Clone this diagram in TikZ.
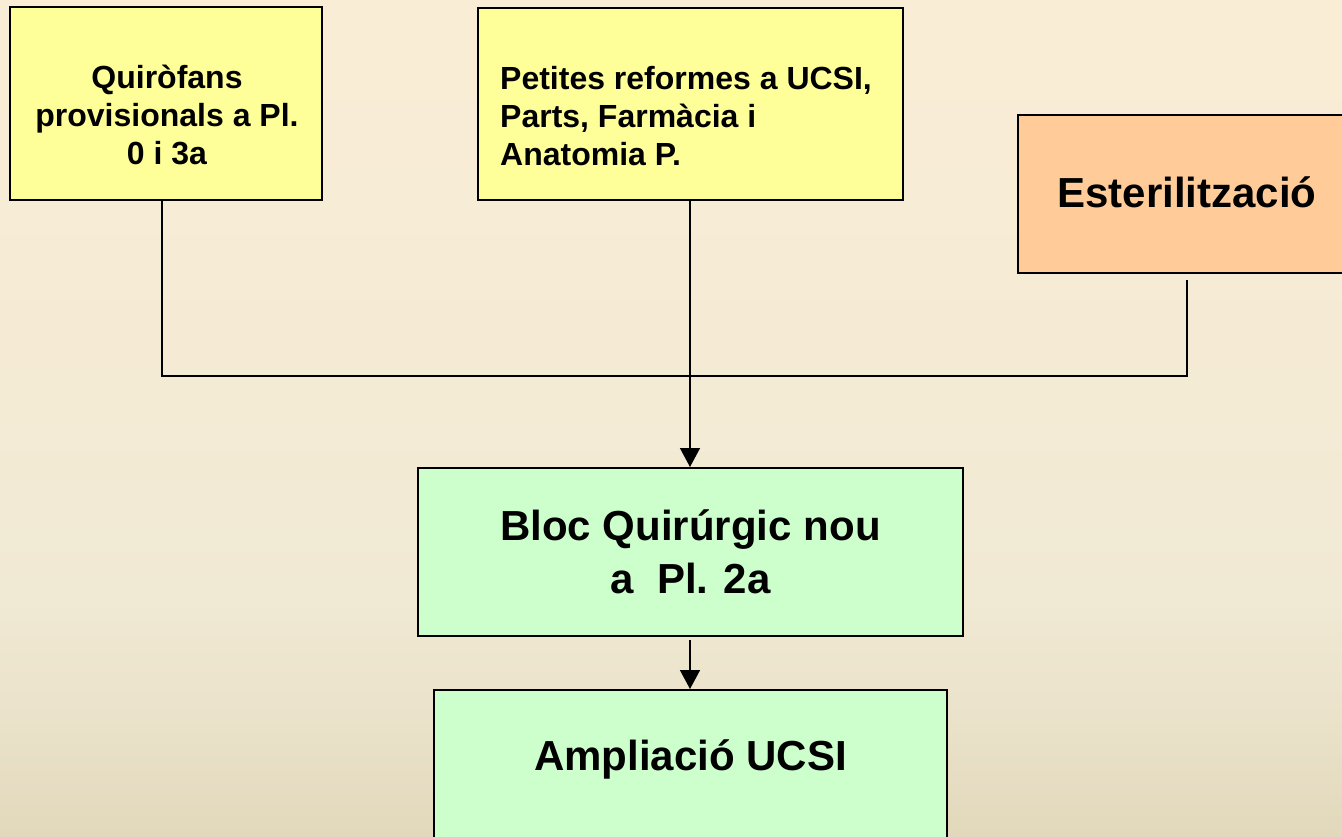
\documentclass[tikz,border=0pt]{standalone}
\usepackage{fontspec}
\setmainfont{Liberation Sans}
\usetikzlibrary{arrows.meta}
\definecolor{bgA}{HTML}{E2D9BC}
\definecolor{bgB}{HTML}{EBE3CB}
\definecolor{bgC}{HTML}{F0E9D3}
\definecolor{bgD}{HTML}{F4EBD5}
\definecolor{bgE}{HTML}{FAEDD6}
\definecolor{yel}{HTML}{FFFF99}
\definecolor{grn}{HTML}{CCFFCC}
\definecolor{org}{HTML}{FFCC99}
\pgfdeclareverticalshading{bgshade}{100bp}{color(0bp)=(bgA); color(25bp)=(bgA); color(33bp)=(bgB); color(39bp)=(bgC); color(51bp)=(bgD); color(75bp)=(bgE); color(100bp)=(bgE)}
\tikzset{
  boxy/.style={draw=black, line width=2pt, rectangle, inner sep=0pt},
  smalltxt/.style={font=\fontsize{32}{38}\selectfont\bfseries, inner sep=0pt},
  bigtxt/.style={font=\fontsize{42}{53}\selectfont\bfseries, inner sep=0pt},
  conn/.style={draw=black, line width=1.5pt},
  arr/.style={conn, -{Triangle[width=20pt,length=19pt]}}
}
\begin{document}
\begin{tikzpicture}[x=1pt,y=-1pt]
\path[use as bounding box] (0,0) rectangle (1342,836);
\clip (0,0) rectangle (1342,836);
\shade[shading=bgshade] (0,0) rectangle (1342,836);
% boxes
\node[boxy, fill=yel, minimum width=312pt, minimum height=193pt] (b1) at (166,103.5) {};
\node[boxy, fill=yel, minimum width=425pt, minimum height=192pt] (b2) at (690.5,104) {};
\node[boxy, fill=org, minimum width=338pt, minimum height=158pt] (b3) at (1187,194) {};
\node[boxy, fill=grn, minimum width=545pt, minimum height=168pt] (bloc) at (690.5,552) {};
\node[boxy, fill=grn, minimum width=513pt, minimum height=210pt] (ampl) at (690.5,795) {};
% texts
\node[smalltxt, align=center, anchor=base] (t1) at (167,164) {Quiròfans\\provisionals a Pl.\\0 i 3a};
\node[smalltxt, align=left, anchor=base west] (t2) at (500,165) {Petites reformes a UCSI,\\Parts, Farmàcia i\\Anatomia P.};
\node[bigtxt, anchor=base] (t3) at (1187,207) {Esterilització};
\node[bigtxt, align=center, anchor=base] (t4) at (690.5,593) {Bloc Quirúrgic nou\\a\ \ Pl. 2a};
\node[bigtxt, anchor=base] (t5) at (690.5,770) {Ampliació UCSI};
% connectors
\coordinate (b1d) at ([xshift=-4pt]b1.south);
\coordinate (b3d) at (1187,280);
\coordinate (bus) at (690,376);
\draw[conn] (b1d) |- (bus) -| (b3d);
\draw[arr] (b2.south -| bus) -- (bloc.north -| bus);
\draw[arr] ([yshift=-3pt]bloc.south -| bus) -- (ampl.north -| bus);
\end{tikzpicture}
\end{document}
